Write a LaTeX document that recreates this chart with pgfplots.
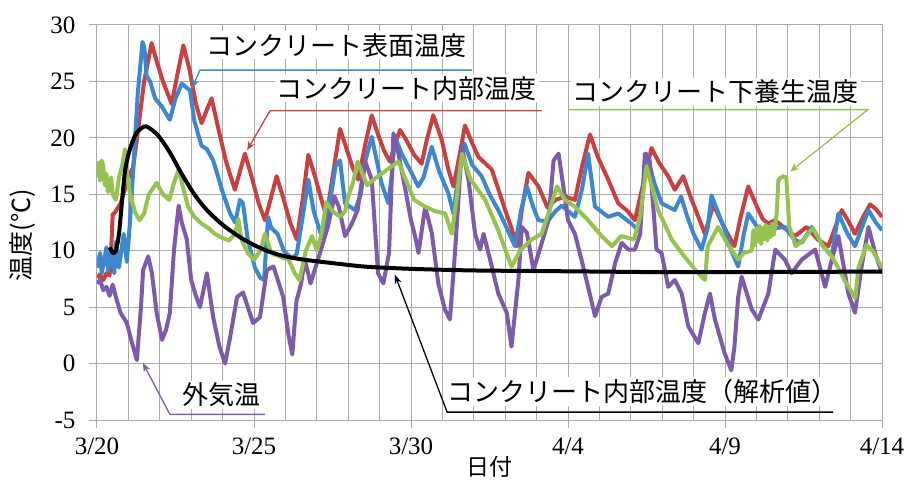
\documentclass[border=0pt]{standalone}
\usepackage{fontspec}
\setmainfont{Liberation Serif}
\newfontfamily\jp{Noto Sans CJK JP}
\usepackage{pgfplots}
\pgfplotsset{compat=1.18}
\usetikzlibrary{arrows.meta}
\definecolor{cred}{RGB}{200,64,64}
\definecolor{cblue}{RGB}{60,135,205}
\definecolor{cgreen}{RGB}{150,195,80}
\definecolor{cpurple}{RGB}{125,90,170}
\definecolor{cgrid}{RGB}{170,170,170}
\begin{document}
\begin{tikzpicture}
\begin{axis}[name=ax, scale only axis, width=785pt, height=395pt,
 xmin=0, xmax=25, ymin=-5, ymax=30,
 xtick={0,5,...,25}, xticklabels={3/20,3/25,3/30,4/4,4/9,4/14},
 minor xtick={1,2,3,4,6,7,8,9,11,12,13,14,16,17,18,19,21,22,23,24},
 ytick={-5,0,...,30},
 grid=both,
 grid style={draw=cgrid, line width=1pt},
 minor grid style={draw=cgrid, line width=1pt},
 axis line style={draw=cgrid, line width=1pt},
 tick style={draw=cgrid, line width=1pt},
 tick align=outside, major tick length=8pt, minor tick length=0pt,
 tick pos=left,
 tick label style={font=\fontsize{25}{30}\selectfont},
 xticklabel style={yshift=-6pt},
 yticklabel style={xshift=-10pt},
 /pgf/number format/assume math mode=true,
 xlabel={\jp 日付}, ylabel={\jp 温度(℃)},
 label style={font=\fontsize{25}{30}\selectfont},
 xlabel style={at={(axis description cs:0.5,-0.118)}, anchor=center, font=\fontsize{23}{26}\selectfont},
 ylabel style={at={(axis description cs:-0.0955,0.468)}, anchor=center},
 every axis plot/.append style={line width=4pt, line join=round},
]
% interior (red)
\addplot[cred] coordinates {(0.0,7.6)(0.1,7.9)(0.2,7.4)(0.3,8.0)(0.4,7.8)(0.45,10.0)(0.5,13.2)(0.6,13.5)(0.75,14.2)(0.9,15.5)(1.05,16.8)(1.15,17.4)(1.3,20.5)(1.5,25.0)(1.74,28.4)(1.9,26.8)(2.1,25.0)(2.38,23.0)(2.55,25.5)(2.75,28.2)(2.95,26.0)(3.15,23.0)(3.33,21.3)(3.5,22.5)(3.65,23.5)(3.85,21.0)(4.1,18.0)(4.39,15.4)(4.55,17.0)(4.71,18.6)(4.9,16.8)(5.15,14.2)(5.35,12.7)(5.55,14.8)(5.72,16.6)(5.95,14.5)(6.15,12.5)(6.36,11.0)(6.55,14.5)(6.73,18.5)(6.95,16.5)(7.15,14.5)(7.31,13.0)(7.5,16.5)(7.74,20.8)(7.95,19.0)(8.15,17.3)(8.32,16.3)(8.55,19.5)(8.75,22.0)(8.95,20.3)(9.15,18.8)(9.33,17.9)(9.5,19.5)(9.65,20.7)(9.85,19.8)(10.1,18.5)(10.34,17.7)(10.5,19.8)(10.71,22.0)(10.98,19.8)(11.19,17.2)(11.35,15.7)(11.55,18.5)(11.72,21.1)(11.95,19.5)(12.15,18.3)(12.57,17.2)(12.8,15.3)(13.0,13.6)(13.2,12.0)(13.37,10.4)(13.55,14.0)(13.74,16.9)(13.9,16.3)(14.06,15.7)(14.35,13.8)(14.6,14.5)(14.9,14.8)(15.22,14.5)(15.45,17.5)(15.7,20.3)(15.95,18.3)(16.28,16.3)(16.6,14.2)(16.9,13.5)(17.13,12.7)(17.4,16.0)(17.66,19.1)(17.9,17.8)(18.19,16.6)(18.4,15.4)(18.67,16.6)(18.9,14.8)(19.15,13.0)(19.36,11.5)(19.63,14.1)(19.95,12.2)(20.3,10.4)(20.5,13.0)(20.74,15.7)(21.0,14.0)(21.2,12.8)(21.38,12.4)(21.6,12.7)(21.9,12.0)(22.23,11.3)(22.6,12.1)(22.95,11.0)(23.29,10.4)(23.5,12.0)(23.72,13.6)(23.95,12.5)(24.14,11.5)(24.4,13.0)(24.62,14.1)(24.8,13.7)(25.0,13.0)};
% surface (blue)
\addplot[cblue] coordinates {(0.0,8.5)(0.1,9.8)(0.15,8.0)(0.25,9.5)(0.3,10.3)(0.35,8.2)(0.45,10.0)(0.55,8.0)(0.6,10.8)(0.7,8.5)(0.8,10.5)(0.85,11.5)(0.95,9.0)(1.05,12.5)(1.15,17.0)(1.3,24.0)(1.45,28.5)(1.51,28.0)(1.58,25.5)(1.69,25.0)(1.85,23.5)(2.06,22.8)(2.32,21.6)(2.5,23.5)(2.7,24.8)(2.96,24.2)(3.1,21.5)(3.33,19.3)(3.5,19.0)(3.7,18.0)(3.82,16.9)(4.0,15.2)(4.24,13.3)(4.4,12.5)(4.55,14.5)(4.65,14.2)(4.8,11.0)(5.03,8.5)(5.2,7.6)(5.32,7.4)(5.45,13.0)(5.55,12.0)(5.75,11.5)(5.95,10.0)(6.2,9.3)(6.36,9.7)(6.55,13.0)(6.73,16.3)(6.9,13.5)(7.15,11.3)(7.4,14.0)(7.6,17.5)(7.74,18.0)(7.9,14.2)(8.22,13.6)(8.4,15.0)(8.55,18.0)(8.75,20.1)(9.06,16.0)(9.28,14.2)(9.4,17.0)(9.49,20.1)(9.7,18.6)(10.0,17.0)(10.23,15.7)(10.4,16.5)(10.66,19.2)(10.9,17.0)(11.19,15.1)(11.35,13.3)(11.5,16.5)(11.7,19.5)(11.95,17.6)(12.25,16.6)(12.5,15.0)(12.78,13.6)(13.05,12.0)(13.31,10.4)(13.5,13.5)(13.69,15.7)(13.9,13.8)(14.06,12.7)(14.35,12.6)(14.6,13.5)(14.8,14.0)(15.22,13.0)(15.45,15.5)(15.64,18.6)(15.86,13.9)(16.28,13.0)(16.6,13.3)(17.02,12.4)(17.24,11.8)(17.4,15.5)(17.5,18.6)(17.75,16.0)(17.98,14.2)(18.4,13.6)(18.6,14.8)(18.8,13.0)(19.0,11.5)(19.25,10.1)(19.45,12.0)(19.57,14.9)(20.0,11.8)(20.2,10.0)(20.42,8.6)(20.6,11.5)(20.74,13.3)(21.0,12.2)(21.38,11.5)(21.6,12.0)(21.91,12.1)(22.2,11.0)(22.44,10.7)(22.76,12.1)(23.1,10.5)(23.4,9.5)(23.61,13.3)(23.9,11.5)(24.14,10.4)(24.35,12.0)(24.57,13.6)(24.8,12.5)(25.0,11.8)};
% outside air (purple)
\addplot[cpurple] coordinates {(0.0,7.1)(0.1,7.4)(0.2,6.5)(0.3,6.8)(0.4,6.0)(0.5,7.0)(0.6,5.9)(0.75,4.5)(0.95,3.6)(1.1,2.0)(1.27,0.3)(1.4,5.0)(1.47,8.3)(1.63,9.5)(1.75,8.0)(1.9,4.5)(2.07,2.1)(2.2,3.0)(2.32,4.5)(2.45,10.0)(2.6,14.0)(2.7,12.5)(2.86,11.0)(3.0,7.4)(3.15,6.0)(3.28,5.0)(3.5,8.0)(3.7,4.1)(3.9,1.5)(4.08,0.0)(4.25,2.5)(4.46,5.9)(4.65,6.3)(4.97,3.6)(5.19,4.1)(5.41,8.3)(5.62,8.6)(5.93,5.9)(6.1,2.5)(6.22,0.8)(6.35,5.5)(6.5,7.1)(6.62,9.2)(6.8,7.1)(7.1,9.8)(7.35,12.1)(7.56,14.8)(7.7,13.9)(7.9,11.3)(8.1,12.3)(8.3,13.6)(8.53,18.0)(8.75,16.3)(8.95,8.0)(9.12,7.1)(9.3,9.8)(9.44,20.4)(9.6,18.6)(9.8,15.7)(10.0,12.7)(10.13,11.3)(10.24,9.8)(10.45,13.9)(10.66,11.6)(10.87,7.1)(11.08,4.8)(11.24,3.9)(11.4,9.8)(11.62,19.2)(11.83,16.3)(12.04,11.5)(12.2,10.1)(12.31,11.5)(12.52,9.2)(12.78,6.2)(13.05,4.5)(13.2,1.5)(13.42,7.4)(13.53,12.1)(13.69,11.6)(13.9,8.3)(14.1,10.1)(14.38,12.7)(14.54,18.0)(14.7,18.6)(14.85,15.7)(15.0,12.7)(15.22,11.5)(15.43,9.2)(15.64,6.8)(15.86,4.2)(16.07,5.9)(16.28,6.2)(16.5,8.9)(16.71,10.7)(16.92,10.1)(17.13,10.1)(17.3,11.5)(17.45,18.6)(17.6,18.0)(17.82,10.1)(17.98,9.8)(18.19,6.8)(18.4,7.4)(18.62,6.2)(18.83,3.3)(19.15,1.8)(19.36,4.5)(19.52,6.2)(19.68,3.9)(19.99,0.9)(20.2,-0.6)(20.3,1.5)(20.42,5.9)(20.53,7.7)(20.85,4.8)(21.06,3.9)(21.38,6.2)(21.6,10.1)(21.91,9.2)(22.12,8.0)(22.44,9.2)(22.87,10.1)(23.19,6.8)(23.4,9.2)(23.61,11.3)(23.93,6.2)(24.14,4.5)(24.35,8.6)(24.57,12.1)(24.78,9.8)(25.0,8.0)};
% under curing (green)
\addplot[cgreen] coordinates {(0.0,16.5)(0.05,17.8)(0.1,16.2)(0.15,18.0)(0.2,17.5)(0.25,15.8)(0.3,16.8)(0.35,15.2)(0.45,16.5)(0.5,15.0)(0.6,14.5)(0.7,16.5)(0.8,17.5)(0.89,19.0)(0.95,17.0)(1.05,15.1)(1.2,13.5)(1.35,12.7)(1.5,13.3)(1.65,15.0)(1.9,16.0)(2.1,15.0)(2.3,14.5)(2.45,16.0)(2.6,17.2)(2.75,15.5)(2.9,13.9)(3.1,13.0)(3.33,12.4)(3.55,12.0)(3.75,11.5)(3.95,11.2)(4.2,10.9)(4.4,11.5)(4.5,12.8)(4.6,11.0)(4.8,9.8)(5.0,9.2)(5.2,10.0)(5.35,11.5)(5.55,9.8)(5.8,9.5)(6.1,9.2)(6.3,8.0)(6.45,7.4)(6.65,10.0)(6.85,11.3)(7.0,10.0)(7.15,11.5)(7.3,14.3)(7.5,13.5)(7.75,13.0)(7.9,13.5)(8.0,14.8)(8.15,16.0)(8.3,17.9)(8.6,15.8)(8.9,16.5)(9.15,17.0)(9.6,17.9)(9.8,16.5)(10.1,14.5)(10.45,13.9)(10.77,13.5)(11.09,13.3)(11.3,11.5)(11.45,14.5)(11.62,18.6)(11.9,16.3)(12.36,14.5)(12.78,11.8)(13.2,8.6)(13.5,10.1)(13.85,11.0)(14.16,11.5)(14.4,13.5)(14.65,15.7)(14.9,14.5)(15.22,13.9)(15.64,12.7)(16.07,11.3)(16.4,10.4)(16.7,11.3)(17.1,11.0)(17.3,13.0)(17.5,17.5)(17.87,13.6)(18.3,11.0)(18.62,9.8)(19.05,8.3)(19.36,7.4)(19.45,10.4)(19.78,12.1)(20.1,10.5)(20.42,9.2)(20.6,9.8)(20.85,10.0)(20.9,11.8)(20.95,10.5)(21.0,12.0)(21.05,10.8)(21.1,12.2)(21.15,10.6)(21.2,12.0)(21.25,11.0)(21.3,12.3)(21.35,10.9)(21.4,12.1)(21.45,11.2)(21.5,12.4)(21.55,11.4)(21.6,12.2)(21.65,13.5)(21.7,16.3)(21.85,16.6)(21.95,16.5)(22.05,12.1)(22.25,10.4)(22.5,11.0)(22.8,12.0)(23.1,10.5)(23.4,9.5)(23.6,8.5)(23.8,7.4)(24.0,6.5)(24.15,5.8)(24.25,8.5)(24.5,10.5)(24.7,10.0)(25.0,8.5)};
% analysis (black)
\addplot[black, smooth] coordinates {(0.41,10.3)(0.5,9.8)(0.6,10.0)(0.7,11.5)(0.8,14.5)(0.9,17.2)(1.05,19.0)(1.25,20.4)(1.5,21.0)(1.65,20.9)(1.95,20.2)(2.3,18.8)(2.7,16.8)(3.1,15.0)(3.5,13.6)(4.0,12.3)(4.5,11.3)(5.0,10.5)(5.5,9.9)(6.0,9.5)(6.6,9.2)(7.5,8.9)(8.5,8.6)(9.5,8.45)(10.5,8.35)(12,8.25)(14,8.2)(16,8.15)(18,8.1)(20,8.1)(22,8.12)(25,8.15)};
% annotations
\begin{scope}[every node/.style={fill=white, inner sep=2pt, font=\jp\fontsize{26}{30}\selectfont}]
\node at (axis cs:7.64,28.2) {コンクリート表面温度};
\node at (axis cs:9.87,24.4) {コンクリート内部温度};
\node at (axis cs:19.71,24.1) {コンクリート下養生温度};
\node at (axis cs:3.98,-2.8) {外気温};
\node at (axis cs:17.36,-2.5) {コンクリート内部温度（解析値）};
\end{scope}
\draw[cblue, line width=1.3pt, -{Stealth[length=9pt,width=7pt]}] (axis cs:11.94,26.0) -- (axis cs:3.28,26.0) -- (axis cs:3.03,24.4);
\draw[cred, line width=1.3pt, -{Stealth[length=9pt,width=7pt]}] (axis cs:14.17,22.4) -- (axis cs:5.51,22.4) -- (axis cs:4.78,18.9);
\draw[cgreen, line width=1.3pt, -{Stealth[length=9pt,width=7pt]}] (axis cs:15.0,22.5) -- (axis cs:24.55,22.5) -- (axis cs:22.07,17.0);
\draw[cpurple, line width=1.3pt, -{Stealth[length=9pt,width=7pt]}] (axis cs:5.35,-4.5) -- (axis cs:2.32,-4.5) -- (axis cs:1.46,0.06);
\draw[black, line width=1.3pt, -{Stealth[length=9pt,width=7pt]}] (axis cs:23.44,-4.3) -- (axis cs:11.15,-4.3) -- (axis cs:9.49,7.86);
\end{axis}
\pgfresetboundingbox
\path[use as bounding box] ([xshift=-97pt,yshift=-62pt]ax.south west) rectangle ([xshift=25pt,yshift=25pt]ax.north east);
\end{tikzpicture}
\end{document}
